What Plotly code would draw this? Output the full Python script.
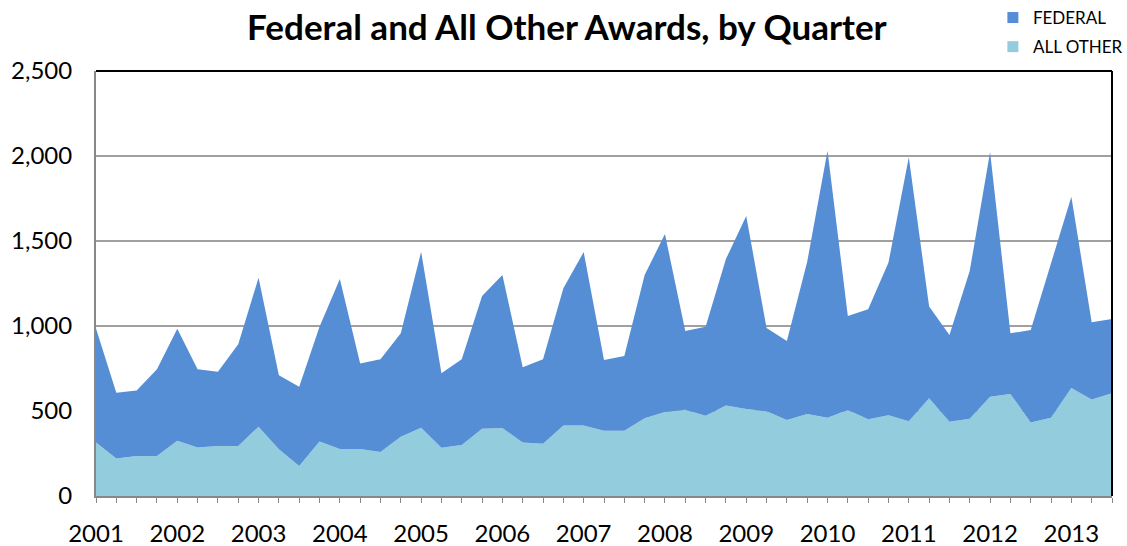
import plotly.graph_objects as go

years = [str(y) for y in range(2001, 2014)]
quarters = [f"{y} Q{q}" for y in range(2001, 2014) for q in range(1, 5)][:51]

# Total awards (top of stack) and ALL OTHER (bottom layer)
total = [986, 608, 620, 745, 984, 745, 731, 892, 1284, 710,
         643, 996, 1276, 780, 804, 957, 1437, 722, 804, 1176,
         1300, 757, 804, 1222, 1435, 800, 823, 1300, 1541, 970,
         996, 1394, 1647, 988, 912, 1378, 2031, 1059, 1098, 1373,
         1992, 1114, 947, 1325, 2023, 957, 976, 1369, 1761, 1022, 1041]
all_other = [314, 221, 235, 235, 325, 286, 294, 294, 408, 275,
             176, 320, 276, 276, 259, 349, 402, 284, 300, 396,
             400, 314, 308, 414, 414, 384, 384, 457, 494, 508,
             472, 533, 512, 499, 447, 482, 461, 506, 451, 475,
             439, 575, 437, 455, 584, 600, 433, 461, 635, 567, 604]
federal = [t - a for t, a in zip(total, all_other)]

FED_COLOR = "#558ED5"
OTH_COLOR = "#93CDDD"
FONT = "Lato"

idx = list(range(len(quarters)))

fig = go.Figure()
fig.add_trace(go.Scatter(x=idx, y=all_other, name="ALL OTHER", stackgroup="one",
                         mode="none", fillcolor=OTH_COLOR, showlegend=False,
                         text=quarters, hoverinfo="text+y"))
fig.add_trace(go.Scatter(x=idx, y=federal, name="FEDERAL", stackgroup="one",
                         mode="none", fillcolor=FED_COLOR, showlegend=False,
                         text=quarters, hoverinfo="text+y"))
# legend entries
fig.add_trace(go.Scatter(x=[None], y=[None], name="FEDERAL", mode="markers",
                         marker=dict(symbol="square", size=11, color=FED_COLOR),
                         legendgroup="a"))
fig.add_trace(go.Scatter(x=[None], y=[None], name="ALL OTHER", mode="markers",
                         marker=dict(symbol="square", size=11, color=OTH_COLOR),
                         legendgroup="b"))

fig.update_layout(
    width=1127, height=546,
    margin=dict(l=96, r=15, t=71, b=50, autoexpand=False),
    paper_bgcolor="white", plot_bgcolor="white",
    font=dict(family=FONT, color="black"),
    title=dict(text="<b>Federal and All Other Awards, by Quarter</b>",
               x=0.503, xanchor="center", y=0.95, yanchor="middle",
               font=dict(size=35, family=FONT, color="black")),
    legend=dict(xref="container", yref="container",
                x=0.881, xanchor="left", y=1.016, yanchor="top",
                font=dict(size=17, family=FONT, color="black"), itemwidth=30,
                traceorder="grouped", tracegroupgap=4,
                bgcolor="rgba(0,0,0,0)"),
    showlegend=True,
    xaxis=dict(range=[0, 50], tickmode="array",
               tickvals=idx[::4], ticktext=years,
               ticks="outside", ticklen=5, tickcolor="#888888", tickwidth=1,
               minor=dict(dtick=1, tick0=0, ticks="outside", ticklen=5,
                          tickcolor="#888888", tickwidth=1, showgrid=False),
               showline=True, linecolor="#888888", linewidth=2,
               showgrid=False, zeroline=False, automargin=False,
               tickfont=dict(size=24, family=FONT), ticklabelstandoff=10),
    yaxis=dict(range=[0, 2500], dtick=500, tickformat=",",
               showline=True, linecolor="#888888", linewidth=2,
               showgrid=True, gridcolor="#A0A0A0", gridwidth=2,
               zeroline=False, ticks="", automargin=False,
               tickfont=dict(size=24, family=FONT), ticklabelstandoff=17),
    shapes=[
        dict(type="line", xref="paper", yref="paper", x0=0, x1=1, y0=1, y1=1,
             line=dict(color="black", width=2)),
        dict(type="line", xref="paper", yref="paper", x0=1, x1=1, y0=0, y1=1,
             line=dict(color="black", width=2)),
    ],
)

fig.write_html("out.html", config={"displayModeBar": False},
               post_script="document.body.style.margin='0';document.body.style.padding='0';")
